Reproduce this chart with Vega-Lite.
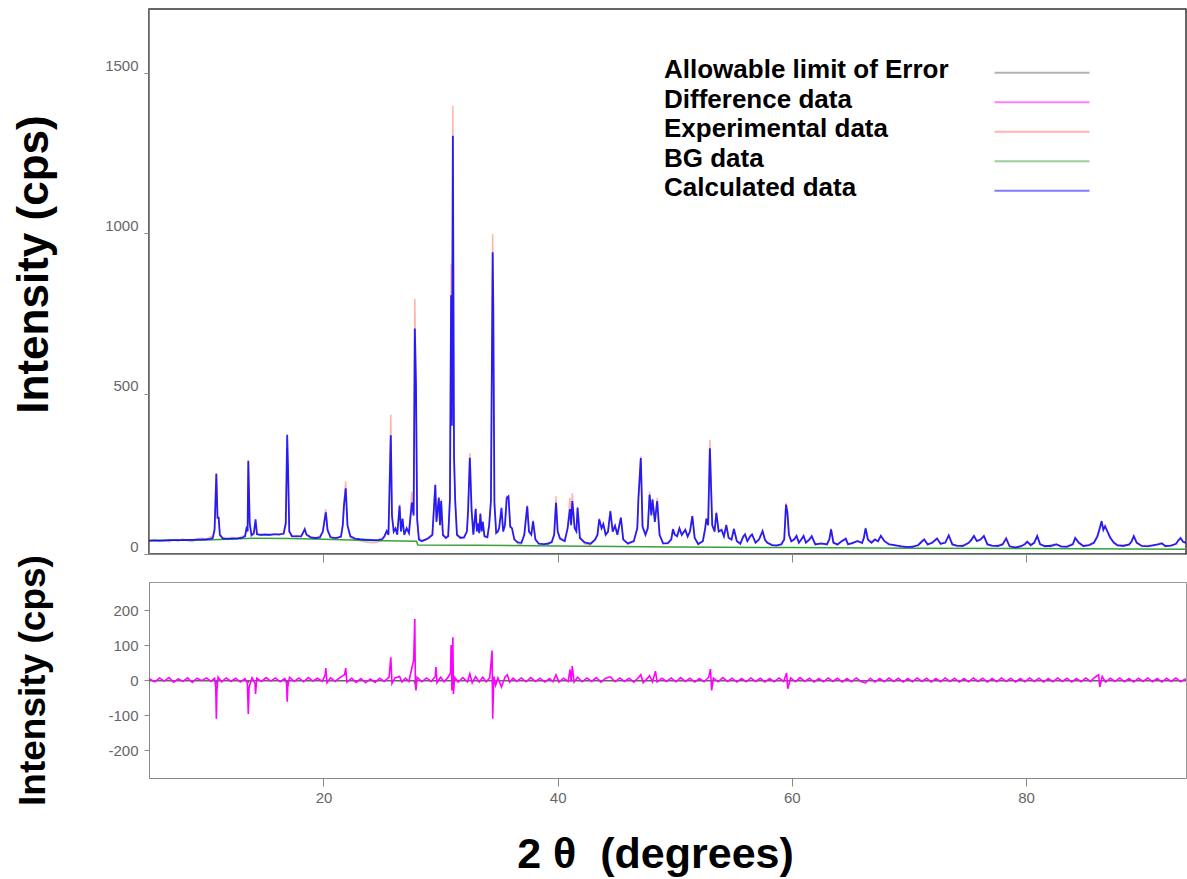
{
  "$schema": "https://vega.github.io/schema/vega-lite/v6.json",
  "usermeta": {"embedOptions": {"actions": false}},
  "padding": {"left": 11, "top": 8, "right": 0, "bottom": 0},
  "spacing": 28,
  "bounds": "flush",
  "datasets": {
    "profile": [
      {"t":5.1,"calc":42,"obs":40},{"t":5.6,"calc":42,"obs":46},{"t":6.0,"calc":42,"obs":39},{"t":6.4,"calc":42,"obs":45},{"t":6.8,"calc":43,"obs":38},{"t":7.2,"calc":43,"obs":44},{"t":7.6,"calc":43,"obs":40},{"t":8.0,"calc":43,"obs":47},{"t":8.4,"calc":44,"obs":41},{"t":8.8,"calc":44,"obs":38},{"t":9.2,"calc":45,"obs":48},{"t":9.6,"calc":45,"obs":50},{"t":10.0,"calc":46,"obs":44},{"t":10.3,"calc":47,"obs":53},{"t":10.55,"calc":50,"obs":56},{"t":10.7,"calc":75,"obs":80},{"t":10.85,"calc":250,"obs":252},{"t":10.95,"calc":113,"obs":118},{"t":11.05,"calc":113,"obs":110},{"t":11.15,"calc":60,"obs":58},{"t":11.4,"calc":48,"obs":52},{"t":11.8,"calc":48,"obs":45},{"t":12.2,"calc":48,"obs":53},{"t":12.6,"calc":49,"obs":46},{"t":13.0,"calc":50,"obs":55},{"t":13.3,"calc":55,"obs":58},{"t":13.45,"calc":85,"obs":82},{"t":13.52,"calc":70,"obs":72},{"t":13.58,"calc":290,"obs":295},{"t":13.7,"calc":95,"obs":100},{"t":13.85,"calc":58,"obs":62},{"t":14.05,"calc":65,"obs":60},{"t":14.2,"calc":108,"obs":95},{"t":14.32,"calc":62,"obs":65},{"t":14.6,"calc":60,"obs":57},{"t":15.0,"calc":60,"obs":63},{"t":15.4,"calc":60,"obs":58},{"t":15.8,"calc":61,"obs":64},{"t":16.2,"calc":61,"obs":59},{"t":16.6,"calc":63,"obs":66},{"t":16.78,"calc":95,"obs":100},{"t":16.9,"calc":372,"obs":330},{"t":16.97,"calc":275,"obs":260},{"t":17.08,"calc":70,"obs":72},{"t":17.3,"calc":56,"obs":54},{"t":17.7,"calc":55,"obs":58},{"t":18.1,"calc":56,"obs":53},{"t":18.3,"calc":70,"obs":68},{"t":18.4,"calc":77,"obs":80},{"t":18.55,"calc":60,"obs":62},{"t":18.9,"calc":52,"obs":55},{"t":19.3,"calc":50,"obs":47},{"t":19.7,"calc":52,"obs":56},{"t":19.95,"calc":70,"obs":72},{"t":20.05,"calc":95,"obs":100},{"t":20.2,"calc":130,"obs":140},{"t":20.35,"calc":75,"obs":70},{"t":20.6,"calc":52,"obs":56},{"t":20.9,"calc":50,"obs":46},{"t":21.2,"calc":50,"obs":54},{"t":21.5,"calc":55,"obs":52},{"t":21.65,"calc":90,"obs":95},{"t":21.75,"calc":150,"obs":160},{"t":21.9,"calc":205,"obs":227},{"t":22.05,"calc":90,"obs":85},{"t":22.3,"calc":55,"obs":50},{"t":22.7,"calc":48,"obs":44},{"t":23.1,"calc":46,"obs":42},{"t":23.5,"calc":45,"obs":38},{"t":23.9,"calc":44,"obs":36},{"t":24.3,"calc":43,"obs":35},{"t":24.7,"calc":44,"obs":38},{"t":25.0,"calc":46,"obs":42},{"t":25.2,"calc":55,"obs":52},{"t":25.4,"calc":72,"obs":70},{"t":25.55,"calc":60,"obs":62},{"t":25.75,"calc":370,"obs":435},{"t":25.85,"calc":120,"obs":118},{"t":26.0,"calc":70,"obs":68},{"t":26.15,"calc":80,"obs":78},{"t":26.3,"calc":60,"obs":62},{"t":26.5,"calc":150,"obs":155},{"t":26.62,"calc":70,"obs":75},{"t":26.75,"calc":110,"obs":112},{"t":26.9,"calc":60,"obs":58},{"t":27.1,"calc":80,"obs":82},{"t":27.3,"calc":65,"obs":70},{"t":27.55,"calc":160,"obs":195},{"t":27.7,"calc":120,"obs":125},{"t":27.8,"calc":703,"obs":796},{"t":27.9,"calc":530,"obs":530},{"t":28.0,"calc":110,"obs":100},{"t":28.15,"calc":45,"obs":50},{"t":28.4,"calc":40,"obs":44},{"t":28.7,"calc":45,"obs":42},{"t":29.0,"calc":50,"obs":54},{"t":29.3,"calc":60,"obs":58},{"t":29.55,"calc":215,"obs":220},{"t":29.65,"calc":100,"obs":105},{"t":29.85,"calc":175,"obs":178},{"t":29.95,"calc":90,"obs":92},{"t":30.05,"calc":165,"obs":170},{"t":30.2,"calc":60,"obs":58},{"t":30.45,"calc":50,"obs":53},{"t":30.65,"calc":55,"obs":58},{"t":30.8,"calc":170,"obs":172},{"t":30.9,"calc":807,"obs":905},{"t":30.97,"calc":400,"obs":420},{"t":31.05,"calc":1305,"obs":1398},{"t":31.15,"calc":300,"obs":310},{"t":31.25,"calc":165,"obs":168},{"t":31.4,"calc":60,"obs":58},{"t":31.7,"calc":50,"obs":54},{"t":32.0,"calc":52,"obs":50},{"t":32.25,"calc":70,"obs":72},{"t":32.35,"calc":135,"obs":138},{"t":32.5,"calc":300,"obs":315},{"t":32.65,"calc":135,"obs":140},{"t":32.8,"calc":60,"obs":62},{"t":33.0,"calc":140,"obs":145},{"t":33.1,"calc":70,"obs":75},{"t":33.2,"calc":95,"obs":98},{"t":33.3,"calc":65,"obs":70},{"t":33.4,"calc":125,"obs":128},{"t":33.5,"calc":70,"obs":72},{"t":33.6,"calc":100,"obs":102},{"t":33.75,"calc":55,"obs":58},{"t":34.0,"calc":52,"obs":55},{"t":34.15,"calc":90,"obs":92},{"t":34.3,"calc":165,"obs":168},{"t":34.45,"calc":941,"obs":998},{"t":34.5,"calc":780,"obs":780},{"t":34.6,"calc":160,"obs":150},{"t":34.75,"calc":65,"obs":68},{"t":34.9,"calc":70,"obs":74},{"t":35.0,"calc":80,"obs":82},{"t":35.2,"calc":144,"obs":130},{"t":35.35,"calc":70,"obs":72},{"t":35.5,"calc":90,"obs":95},{"t":35.65,"calc":175,"obs":180},{"t":35.8,"calc":180,"obs":178},{"t":35.95,"calc":85,"obs":90},{"t":36.1,"calc":80,"obs":82},{"t":36.3,"calc":45,"obs":48},{"t":36.6,"calc":36,"obs":32},{"t":36.9,"calc":35,"obs":30},{"t":37.15,"calc":60,"obs":62},{"t":37.4,"calc":149,"obs":152},{"t":37.55,"calc":70,"obs":72},{"t":37.75,"calc":60,"obs":62},{"t":37.9,"calc":102,"obs":105},{"t":38.1,"calc":45,"obs":48},{"t":38.4,"calc":32,"obs":28},{"t":38.8,"calc":31,"obs":27},{"t":39.2,"calc":32,"obs":36},{"t":39.5,"calc":38,"obs":35},{"t":39.7,"calc":60,"obs":62},{"t":39.86,"calc":160,"obs":180},{"t":40.0,"calc":70,"obs":72},{"t":40.2,"calc":48,"obs":50},{"t":40.6,"calc":40,"obs":42},{"t":40.85,"calc":80,"obs":82},{"t":41.05,"calc":140,"obs":175},{"t":41.15,"calc":90,"obs":92},{"t":41.25,"calc":165,"obs":190},{"t":41.45,"calc":80,"obs":82},{"t":41.6,"calc":70,"obs":75},{"t":41.7,"calc":144,"obs":148},{"t":41.9,"calc":50,"obs":52},{"t":42.3,"calc":36,"obs":32},{"t":42.8,"calc":32,"obs":28},{"t":43.2,"calc":45,"obs":48},{"t":43.4,"calc":60,"obs":58},{"t":43.55,"calc":108,"obs":112},{"t":43.75,"calc":80,"obs":82},{"t":43.9,"calc":93,"obs":95},{"t":44.1,"calc":60,"obs":62},{"t":44.3,"calc":70,"obs":68},{"t":44.5,"calc":133,"obs":136},{"t":44.7,"calc":70,"obs":72},{"t":44.9,"calc":88,"obs":90},{"t":45.1,"calc":60,"obs":62},{"t":45.4,"calc":113,"obs":115},{"t":45.6,"calc":45,"obs":48},{"t":46.0,"calc":33,"obs":30},{"t":46.5,"calc":40,"obs":38},{"t":46.8,"calc":80,"obs":82},{"t":46.9,"calc":175,"obs":178},{"t":47.1,"calc":299,"obs":305},{"t":47.25,"calc":85,"obs":88},{"t":47.5,"calc":60,"obs":62},{"t":47.7,"calc":80,"obs":90},{"t":47.85,"calc":185,"obs":195},{"t":48.0,"calc":120,"obs":125},{"t":48.1,"calc":170,"obs":172},{"t":48.3,"calc":100,"obs":105},{"t":48.5,"calc":165,"obs":175},{"t":48.7,"calc":60,"obs":62},{"t":49.0,"calc":34,"obs":30},{"t":49.4,"calc":33,"obs":36},{"t":49.7,"calc":45,"obs":48},{"t":49.85,"calc":77,"obs":80},{"t":50.0,"calc":60,"obs":62},{"t":50.2,"calc":55,"obs":58},{"t":50.4,"calc":80,"obs":82},{"t":50.6,"calc":60,"obs":58},{"t":50.9,"calc":75,"obs":78},{"t":51.1,"calc":55,"obs":52},{"t":51.3,"calc":70,"obs":72},{"t":51.5,"calc":118,"obs":120},{"t":51.7,"calc":50,"obs":52},{"t":52.0,"calc":31,"obs":28},{"t":52.4,"calc":40,"obs":42},{"t":52.6,"calc":80,"obs":82},{"t":52.7,"calc":110,"obs":112},{"t":52.85,"calc":90,"obs":95},{"t":53.0,"calc":330,"obs":356},{"t":53.2,"calc":90,"obs":88},{"t":53.4,"calc":70,"obs":72},{"t":53.55,"calc":128,"obs":132},{"t":53.75,"calc":70,"obs":72},{"t":54.0,"calc":75,"obs":78},{"t":54.2,"calc":55,"obs":58},{"t":54.4,"calc":90,"obs":92},{"t":54.6,"calc":50,"obs":52},{"t":54.85,"calc":45,"obs":48},{"t":55.05,"calc":78,"obs":80},{"t":55.3,"calc":40,"obs":42},{"t":55.6,"calc":32,"obs":35},{"t":55.85,"calc":55,"obs":52},{"t":56.0,"calc":61,"obs":64},{"t":56.2,"calc":40,"obs":42},{"t":56.45,"calc":55,"obs":58},{"t":56.6,"calc":61,"obs":60},{"t":56.9,"calc":35,"obs":38},{"t":57.2,"calc":45,"obs":48},{"t":57.5,"calc":71,"obs":75},{"t":57.7,"calc":45,"obs":42},{"t":57.9,"calc":35,"obs":38},{"t":58.3,"calc":28,"obs":30},{"t":58.7,"calc":27,"obs":24},{"t":59.1,"calc":30,"obs":32},{"t":59.35,"calc":45,"obs":48},{"t":59.5,"calc":154,"obs":160},{"t":59.62,"calc":130,"obs":128},{"t":59.75,"calc":60,"obs":62},{"t":59.95,"calc":40,"obs":38},{"t":60.2,"calc":45,"obs":48},{"t":60.4,"calc":56,"obs":58},{"t":60.6,"calc":35,"obs":38},{"t":60.8,"calc":45,"obs":42},{"t":61.0,"calc":56,"obs":58},{"t":61.2,"calc":35,"obs":38},{"t":61.5,"calc":45,"obs":48},{"t":61.7,"calc":56,"obs":52},{"t":62.0,"calc":30,"obs":32},{"t":62.5,"calc":33,"obs":30},{"t":63.0,"calc":30,"obs":33},{"t":63.2,"calc":45,"obs":48},{"t":63.35,"calc":77,"obs":80},{"t":63.55,"calc":35,"obs":38},{"t":63.9,"calc":30,"obs":27},{"t":64.2,"calc":38,"obs":40},{"t":64.6,"calc":47,"obs":50},{"t":64.8,"calc":30,"obs":33},{"t":65.2,"calc":35,"obs":32},{"t":65.6,"calc":40,"obs":43},{"t":66.0,"calc":35,"obs":33},{"t":66.15,"calc":50,"obs":55},{"t":66.3,"calc":80,"obs":82},{"t":66.5,"calc":45,"obs":42},{"t":66.8,"calc":35,"obs":38},{"t":67.1,"calc":45,"obs":48},{"t":67.35,"calc":40,"obs":38},{"t":67.6,"calc":57,"obs":55},{"t":67.9,"calc":40,"obs":42},{"t":68.3,"calc":30,"obs":33},{"t":68.8,"calc":28,"obs":25},{"t":69.3,"calc":24,"obs":27},{"t":69.8,"calc":22,"obs":19},{"t":70.3,"calc":22,"obs":25},{"t":70.8,"calc":28,"obs":26},{"t":71.0,"calc":35,"obs":38},{"t":71.3,"calc":45,"obs":48},{"t":71.6,"calc":30,"obs":28},{"t":72.0,"calc":35,"obs":38},{"t":72.4,"calc":48,"obs":50},{"t":72.7,"calc":32,"obs":30},{"t":73.1,"calc":35,"obs":38},{"t":73.4,"calc":58,"obs":60},{"t":73.7,"calc":30,"obs":32},{"t":74.1,"calc":26,"obs":23},{"t":74.6,"calc":25,"obs":28},{"t":75.1,"calc":35,"obs":33},{"t":75.35,"calc":45,"obs":48},{"t":75.55,"calc":56,"obs":58},{"t":75.8,"calc":40,"obs":42},{"t":76.1,"calc":45,"obs":43},{"t":76.4,"calc":56,"obs":58},{"t":76.7,"calc":30,"obs":32},{"t":77.1,"calc":26,"obs":24},{"t":77.6,"calc":25,"obs":28},{"t":78.0,"calc":30,"obs":32},{"t":78.3,"calc":48,"obs":52},{"t":78.6,"calc":24,"obs":22},{"t":79.1,"calc":20,"obs":23},{"t":79.6,"calc":25,"obs":22},{"t":79.9,"calc":30,"obs":34},{"t":80.1,"calc":38,"obs":40},{"t":80.4,"calc":28,"obs":25},{"t":80.7,"calc":35,"obs":38},{"t":80.95,"calc":56,"obs":55},{"t":81.2,"calc":30,"obs":33},{"t":81.6,"calc":25,"obs":22},{"t":82.1,"calc":25,"obs":28},{"t":82.6,"calc":30,"obs":32},{"t":83.0,"calc":24,"obs":21},{"t":83.5,"calc":22,"obs":25},{"t":84.0,"calc":30,"obs":33},{"t":84.2,"calc":50,"obs":48},{"t":84.5,"calc":35,"obs":38},{"t":84.9,"calc":25,"obs":23},{"t":85.4,"calc":28,"obs":30},{"t":85.8,"calc":35,"obs":38},{"t":86.1,"calc":55,"obs":60},{"t":86.3,"calc":80,"obs":85},{"t":86.45,"calc":102,"obs":100},{"t":86.6,"calc":75,"obs":78},{"t":86.75,"calc":87,"obs":85},{"t":86.95,"calc":70,"obs":72},{"t":87.2,"calc":50,"obs":53},{"t":87.5,"calc":35,"obs":38},{"t":87.8,"calc":28,"obs":25},{"t":88.3,"calc":25,"obs":28},{"t":88.8,"calc":30,"obs":27},{"t":89.0,"calc":38,"obs":40},{"t":89.2,"calc":56,"obs":55},{"t":89.45,"calc":35,"obs":38},{"t":89.9,"calc":25,"obs":23},{"t":90.4,"calc":24,"obs":27},{"t":90.9,"calc":28,"obs":26},{"t":91.3,"calc":30,"obs":33},{"t":91.6,"calc":33,"obs":35},{"t":91.9,"calc":25,"obs":23},{"t":92.4,"calc":26,"obs":28},{"t":92.8,"calc":32,"obs":30},{"t":93.0,"calc":42,"obs":45},{"t":93.2,"calc":50,"obs":48},{"t":93.4,"calc":38,"obs":40},{"t":93.66,"calc":35,"obs":33}
    ],
    "bg": [
      {"t":5.1,"bg":42},{"t":10.0,"bg":44},{"t":14.0,"bg":49},{"t":17.0,"bg":48},{"t":20.0,"bg":46},{"t":24.0,"bg":42},{"t":27.95,"bg":40},{"t":28.05,"bg":28},{"t":33.0,"bg":27},{"t":40.0,"bg":25},{"t":50.0,"bg":22},{"t":60.0,"bg":20},{"t":70.0,"bg":18},{"t":80.0,"bg":17},{"t":93.66,"bg":15}
    ],
    "limit": [
      {"t":5.1,"err":-2},{"t":10.8,"err":-2},{"t":10.85,"err":-8},{"t":10.9,"err":-2},{"t":13.55,"err":-2},{"t":13.58,"err":-8},{"t":13.62,"err":-2},{"t":16.85,"err":-2},{"t":16.9,"err":-8},{"t":16.95,"err":-2},{"t":27.75,"err":-2},{"t":27.8,"err":-10},{"t":27.85,"err":-2},{"t":31.0,"err":-2},{"t":31.05,"err":-10},{"t":31.1,"err":-2},{"t":34.4,"err":-2},{"t":34.45,"err":-10},{"t":34.5,"err":-2},{"t":93.66,"err":-2}
    ],
    "diff": [
      {"t":5.1,"d":4},{"t":5.6,"d":-5},{"t":6.0,"d":6},{"t":6.4,"d":-3},{"t":6.8,"d":7},{"t":7.2,"d":-6},{"t":7.6,"d":3},{"t":8.0,"d":-4},{"t":8.4,"d":6},{"t":8.8,"d":-7},{"t":9.2,"d":5},{"t":9.6,"d":-2},{"t":10.0,"d":6},{"t":10.4,"d":-4},{"t":10.7,"d":5},{"t":10.8,"d":-20},{"t":10.85,"d":-111},{"t":10.9,"d":-30},{"t":11.0,"d":8},{"t":11.3,"d":-5},{"t":11.7,"d":6},{"t":12.1,"d":-4},{"t":12.5,"d":5},{"t":12.9,"d":-6},{"t":13.3,"d":4},{"t":13.5,"d":-10},{"t":13.58,"d":-97},{"t":13.65,"d":-20},{"t":13.9,"d":6},{"t":14.15,"d":-10},{"t":14.2,"d":-40},{"t":14.3,"d":5},{"t":14.7,"d":-4},{"t":15.1,"d":7},{"t":15.5,"d":-3},{"t":15.9,"d":6},{"t":16.3,"d":-5},{"t":16.7,"d":4},{"t":16.85,"d":-10},{"t":16.9,"d":-62},{"t":16.95,"d":-20},{"t":17.1,"d":8},{"t":17.5,"d":-4},{"t":17.9,"d":6},{"t":18.3,"d":-5},{"t":18.7,"d":7},{"t":19.1,"d":-3},{"t":19.5,"d":5},{"t":19.9,"d":-4},{"t":20.15,"d":15},{"t":20.2,"d":34},{"t":20.3,"d":-8},{"t":20.6,"d":6},{"t":21.0,"d":-4},{"t":21.4,"d":7},{"t":21.8,"d":15},{"t":21.9,"d":34},{"t":22.0,"d":-6},{"t":22.4,"d":5},{"t":22.8,"d":-7},{"t":23.2,"d":4},{"t":23.6,"d":-8},{"t":24.0,"d":3},{"t":24.4,"d":-7},{"t":24.8,"d":5},{"t":25.2,"d":-4},{"t":25.6,"d":8},{"t":25.75,"d":65},{"t":25.85,"d":-10},{"t":26.1,"d":6},{"t":26.5,"d":10},{"t":26.7,"d":-6},{"t":27.0,"d":5},{"t":27.3,"d":-4},{"t":27.55,"d":35},{"t":27.7,"d":55},{"t":27.8,"d":174},{"t":27.85,"d":-15},{"t":27.9,"d":-30},{"t":28.0,"d":8},{"t":28.4,"d":-5},{"t":28.8,"d":6},{"t":29.2,"d":-4},{"t":29.55,"d":10},{"t":29.6,"d":37},{"t":29.7,"d":-8},{"t":30.0,"d":8},{"t":30.3,"d":-5},{"t":30.6,"d":6},{"t":30.85,"d":20},{"t":30.9,"d":100},{"t":30.97,"d":-30},{"t":31.05,"d":122},{"t":31.1,"d":-40},{"t":31.2,"d":8},{"t":31.5,"d":-6},{"t":31.9,"d":7},{"t":32.3,"d":-5},{"t":32.5,"d":18},{"t":32.7,"d":-8},{"t":33.0,"d":10},{"t":33.3,"d":-6},{"t":33.6,"d":8},{"t":33.9,"d":-5},{"t":34.2,"d":6},{"t":34.4,"d":84},{"t":34.45,"d":-111},{"t":34.55,"d":10},{"t":34.7,"d":-15},{"t":34.9,"d":6},{"t":35.2,"d":-20},{"t":35.5,"d":8},{"t":35.7,"d":15},{"t":35.9,"d":-6},{"t":36.2,"d":5},{"t":36.5,"d":-4},{"t":36.9,"d":6},{"t":37.3,"d":-5},{"t":37.7,"d":7},{"t":38.1,"d":-4},{"t":38.5,"d":5},{"t":38.9,"d":-6},{"t":39.3,"d":4},{"t":39.6,"d":-5},{"t":39.86,"d":15},{"t":40.1,"d":-6},{"t":40.5,"d":5},{"t":40.9,"d":-4},{"t":41.05,"d":30},{"t":41.15,"d":-5},{"t":41.25,"d":40},{"t":41.4,"d":-6},{"t":41.7,"d":8},{"t":42.1,"d":-5},{"t":42.5,"d":6},{"t":42.9,"d":-4},{"t":43.3,"d":7},{"t":43.7,"d":-6},{"t":44.1,"d":5},{"t":44.5,"d":9},{"t":44.9,"d":-5},{"t":45.3,"d":6},{"t":45.7,"d":-4},{"t":46.1,"d":5},{"t":46.5,"d":-6},{"t":46.9,"d":7},{"t":47.1,"d":15},{"t":47.3,"d":-8},{"t":47.7,"d":6},{"t":47.85,"d":12},{"t":48.1,"d":-5},{"t":48.35,"d":25},{"t":48.5,"d":-6},{"t":48.9,"d":5},{"t":49.3,"d":-4},{"t":49.7,"d":6},{"t":50.1,"d":-5},{"t":50.5,"d":7},{"t":50.9,"d":-4},{"t":51.3,"d":5},{"t":51.7,"d":-6},{"t":52.1,"d":4},{"t":52.5,"d":-5},{"t":52.9,"d":8},{"t":53.05,"d":31},{"t":53.15,"d":-30},{"t":53.3,"d":6},{"t":53.7,"d":-5},{"t":54.1,"d":7},{"t":54.5,"d":-4},{"t":54.9,"d":5},{"t":55.3,"d":-6},{"t":55.7,"d":4},{"t":56.1,"d":-5},{"t":56.5,"d":6},{"t":56.9,"d":-4},{"t":57.3,"d":5},{"t":57.7,"d":-6},{"t":58.1,"d":4},{"t":58.5,"d":-5},{"t":58.9,"d":6},{"t":59.3,"d":-4},{"t":59.55,"d":20},{"t":59.65,"d":-25},{"t":59.9,"d":6},{"t":60.3,"d":-5},{"t":60.7,"d":7},{"t":61.1,"d":-4},{"t":61.5,"d":5},{"t":61.9,"d":-6},{"t":62.3,"d":4},{"t":62.7,"d":-5},{"t":63.1,"d":6},{"t":63.5,"d":-4},{"t":63.9,"d":5},{"t":64.3,"d":-6},{"t":64.7,"d":4},{"t":65.1,"d":-5},{"t":65.5,"d":6},{"t":65.9,"d":-4},{"t":66.3,"d":-8},{"t":66.7,"d":5},{"t":67.1,"d":-6},{"t":67.5,"d":4},{"t":67.9,"d":-5},{"t":68.3,"d":6},{"t":68.7,"d":-4},{"t":69.1,"d":5},{"t":69.5,"d":-6},{"t":69.9,"d":4},{"t":70.3,"d":-5},{"t":70.7,"d":6},{"t":71.1,"d":-4},{"t":71.5,"d":5},{"t":71.9,"d":-6},{"t":72.3,"d":4},{"t":72.7,"d":-5},{"t":73.1,"d":6},{"t":73.5,"d":-4},{"t":73.9,"d":5},{"t":74.3,"d":-6},{"t":74.7,"d":4},{"t":75.1,"d":-5},{"t":75.5,"d":6},{"t":75.9,"d":-4},{"t":76.3,"d":5},{"t":76.7,"d":-6},{"t":77.1,"d":4},{"t":77.5,"d":-5},{"t":77.9,"d":6},{"t":78.3,"d":-4},{"t":78.7,"d":5},{"t":79.1,"d":-6},{"t":79.5,"d":4},{"t":79.9,"d":-5},{"t":80.3,"d":6},{"t":80.7,"d":-4},{"t":81.1,"d":5},{"t":81.5,"d":-6},{"t":81.9,"d":4},{"t":82.3,"d":-5},{"t":82.7,"d":6},{"t":83.1,"d":-4},{"t":83.5,"d":5},{"t":83.9,"d":-6},{"t":84.3,"d":4},{"t":84.7,"d":-5},{"t":85.1,"d":6},{"t":85.5,"d":-4},{"t":85.9,"d":8},{"t":86.2,"d":15},{"t":86.3,"d":-20},{"t":86.5,"d":10},{"t":86.8,"d":-6},{"t":87.2,"d":5},{"t":87.6,"d":-4},{"t":88.0,"d":6},{"t":88.4,"d":-5},{"t":88.8,"d":4},{"t":89.2,"d":-6},{"t":89.6,"d":5},{"t":90.0,"d":-4},{"t":90.4,"d":6},{"t":90.8,"d":-5},{"t":91.2,"d":4},{"t":91.6,"d":-6},{"t":92.0,"d":5},{"t":92.4,"d":-4},{"t":92.8,"d":6},{"t":93.2,"d":-5},{"t":93.66,"d":4}
    ]
  },
  "resolve": {"scale": {"y": "independent"}},
  "vconcat": [
    {
      "width": 1037,
      "height": 545,
      "view": {"stroke": "#333333", "strokeWidth": 1.5},
      "layer": [
        {
          "data": {"name": "profile"},
          "mark": {"type": "line", "strokeWidth": 1.5, "opacity": 0.5, "clip": true},
          "encoding": {
            "x": {"field": "t", "type": "quantitative", "scale": {"domain": [5.1, 93.66], "nice": false, "zero": false},
                  "axis": {"values": [20, 40, 60, 80], "labels": false, "title": null, "tickSize": 8}},
            "y": {"field": "obs", "type": "quantitative", "scale": {"domain": [0, 1700], "nice": false},
                  "axis": {"values": [0, 500, 1000, 1500], "format": "d", "title": "Intensity (cps)", "titleFontSize": 44, "titlePadding": 48, "titleY": 255, "tickSize": 5, "labelPadding": 6, "labelBaseline": "bottom"}},
            "color": {
              "datum": "Experimental data", "type": "nominal",
              "scale": {"domain": ["Allowable limit of Error", "Difference data", "Experimental data", "BG data", "Calculated data"],
                        "range": ["#666666", "#ff00ff", "#ff6a5a", "#3aa03a", "#0000ff"]},
              "legend": {
                "encode": {
                  "symbols": {
                    "strokeWidth": {"value": {"expr": "datum.label === 'Calculated data' ? 7 : 2"}},
                    "opacity": {"value": 1}
                  }
                }
              }
            }
          }
        },
        {
          "data": {"name": "bg"},
          "mark": {"type": "line", "strokeWidth": 1.5, "clip": true},
          "encoding": {
            "x": {"field": "t", "type": "quantitative",
                  "axis": {"values": [20, 40, 60, 80], "labels": false, "title": null, "tickSize": 8}},
            "y": {"field": "bg", "type": "quantitative",
                  "axis": {"values": [0, 500, 1000, 1500], "format": "d", "title": "Intensity (cps)", "titleFontSize": 44, "titlePadding": 48, "titleY": 255, "tickSize": 5, "labelPadding": 6, "labelBaseline": "bottom"}},
            "color": {"datum": "BG data", "type": "nominal"}
          }
        },
        {
          "data": {"name": "profile"},
          "mark": {"type": "line", "strokeWidth": 1.8, "opacity": 0.85, "clip": true},
          "encoding": {
            "x": {"field": "t", "type": "quantitative",
                  "axis": {"values": [20, 40, 60, 80], "labels": false, "title": null, "tickSize": 8}},
            "y": {"field": "calc", "type": "quantitative",
                  "axis": {"values": [0, 500, 1000, 1500], "format": "d", "title": "Intensity (cps)", "titleFontSize": 44, "titlePadding": 48, "titleY": 255, "tickSize": 5, "labelPadding": 6, "labelBaseline": "bottom"}},
            "color": {"datum": "Calculated data", "type": "nominal"}
          }
        }
      ]
    },
    {
      "width": 1037,
      "height": 196,
      "view": {"stroke": "#999999"},
      "layer": [
        {
          "data": {"name": "limit"},
          "mark": {"type": "line", "strokeWidth": 1.5, "clip": true},
          "encoding": {
            "x": {"field": "t", "type": "quantitative", "scale": {"domain": [5.1, 93.66], "nice": false, "zero": false},
                  "axis": {"values": [20, 40, 60, 80], "title": "2 θ\u00a0\u00a0(degrees)", "titleFontSize": 43, "titlePadding": 28, "titleX": 506, "tickSize": 8, "labelPadding": 4}},
            "y": {"field": "err", "type": "quantitative", "scale": {"domain": [-280, 280], "nice": false},
                  "axis": {"values": [-200, -100, 0, 100, 200], "title": "Intensity (cps)", "titleFontSize": 37, "titlePadding": 55, "tickSize": 5, "labelPadding": 6, "labelBaseline": "middle", "labelExpr": "replace(datum.label, '\u2212', '-')"}},
            "color": {"datum": "Allowable limit of Error", "type": "nominal"}
          }
        },
        {
          "data": {"name": "diff"},
          "mark": {"type": "line", "strokeWidth": 1.6, "clip": true},
          "encoding": {
            "x": {"field": "t", "type": "quantitative",
                  "axis": {"values": [20, 40, 60, 80], "title": "2 θ\u00a0\u00a0(degrees)", "titleFontSize": 43, "titlePadding": 28, "titleX": 506, "tickSize": 8, "labelPadding": 4}},
            "y": {"field": "d", "type": "quantitative",
                  "axis": {"values": [-200, -100, 0, 100, 200], "title": "Intensity (cps)", "titleFontSize": 37, "titlePadding": 55, "tickSize": 5, "labelPadding": 6, "labelBaseline": "middle", "labelExpr": "replace(datum.label, '\u2212', '-')"}},
            "color": {"datum": "Difference data", "type": "nominal"}
          }
        }
      ]
    }
  ],
  "config": {
    "font": "Liberation Sans",
    "axis": {
      "labelFont": "Liberation Sans", "labelFontSize": 15, "labelColor": "#666666",
      "domainColor": "#888888", "tickColor": "#888888", "grid": false,
      "titleFont": "Liberation Sans", "titleFontWeight": "bold", "titleColor": "#000000"
    },
    "legend": {
      "orient": "none", "legendX": 880, "legendY": 48, "direction": "vertical",
      "title": null, "padding": 0,
      "symbolType": "M-5,0.3L5,0.3", "symbolSize": 361, "symbolStrokeWidth": 2,
      "rowPadding": 3.5,
      "labelFont": "Liberation Sans", "labelFontSize": 26, "labelFontWeight": "bold",
      "labelColor": "#000000", "labelLimit": 500, "labelOffset": -391, "labelBaseline": "middle"
    }
  }
}
